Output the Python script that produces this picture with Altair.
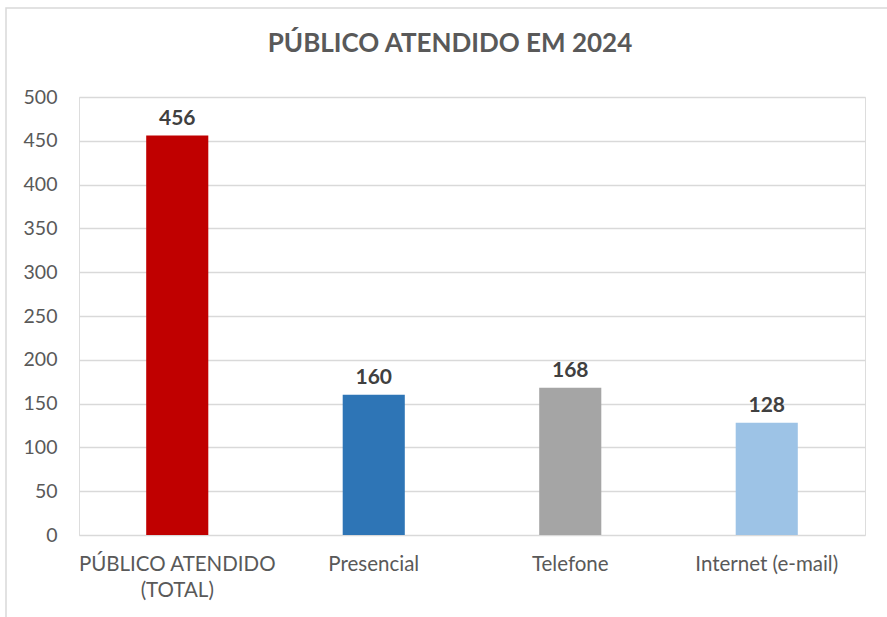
import altair as alt
import pandas as pd

categories = ["PÚBLICO ATENDIDO|(TOTAL)", "Presencial", "Telefone", "Internet (e-mail)"]
values = [456, 160, 168, 128]
colors = ["#C00000", "#2E75B6", "#A5A5A5", "#9DC3E6"]
y_ticks = [0, 50, 100, 150, 200, 250, 300, 350, 400, 450, 500]

df = pd.DataFrame({"cat": categories, "val": values, "color": colors})

FONT = "Lato"

x_enc = alt.X("cat:N", sort=categories, title=None,
              scale=alt.Scale(paddingInner=0, paddingOuter=0),
              axis=alt.Axis(labelExpr="split(datum.label, '|')", labelAngle=0,
                            labelFontSize=20.5, labelColor="#595959", labelFont=FONT,
                            labelPadding=19, labelLineHeight=26, labelLimit=400,
                            domain=False, ticks=False, grid=False))
y_enc = alt.Y("val:Q", title=None,
              scale=alt.Scale(domain=[0, 500], nice=False),
              axis=alt.Axis(values=y_ticks, labelFontSize=19.5, labelColor="#595959",
                            labelFont=FONT, labelPadding=22, domain=False, ticks=False,
                            gridColor="#D9D9D9", gridWidth=1.3))

base = alt.Chart(df)

bars = base.mark_bar(width=alt.RelativeBandSize(0.316)).encode(
    x=x_enc, y=y_enc,
    color=alt.Color("color:N", scale=None, legend=None))

labels = base.mark_text(dy=-11, baseline="alphabetic", fontSize=21, fontWeight="bold",
                        color="#404040", font=FONT).encode(
    x=alt.X("cat:N", sort=categories), y="val:Q", text="val:Q")

border = alt.Chart(pd.DataFrame({"a": [0]})).mark_rect(
    fill=None, stroke="#D9D9D9", strokeWidth=1.5).encode(
    x=alt.value(-73), x2=alt.value(900), y=alt.value(-89), y2=alt.value(640))

title = alt.Chart(pd.DataFrame({"t": ["PÚBLICO ATENDIDO EM 2024"]})).mark_text(
    fontSize=26, font=FONT, fontWeight="bold", color="#595959", baseline="alphabetic",
    align="center").encode(x=alt.value(450 - 79), y=alt.value(52 - 97), text="t:N")

chart = alt.layer(border, bars, labels, title).properties(
    width=786, height=438,
    padding={"left": 79, "top": 97, "right": 22, "bottom": 82},
    autosize=alt.AutoSizeParams(type="none"),
).configure_view(stroke=None).configure(background="white")

chart.save("out.html", embed_options={"renderer": "svg", "actions": False})
